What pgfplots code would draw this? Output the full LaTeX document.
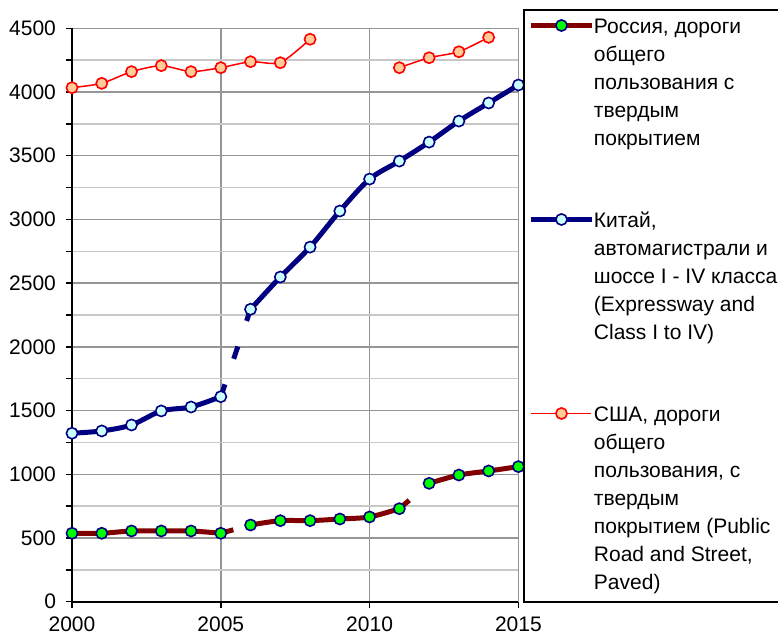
\documentclass[border=0pt]{standalone}
\usepackage{fontspec}
\setmainfont{Liberation Sans}
\usepackage{pgfplots}
\pgfplotsset{compat=1.18}

\definecolor{rusline}{RGB}{128,0,0}
\definecolor{navyblue}{RGB}{0,0,128}
\definecolor{rusfill}{RGB}{0,255,0}
\definecolor{chnfill}{RGB}{204,255,255}
\definecolor{usafill}{RGB}{255,204,153}
\definecolor{majgrid}{RGB}{150,150,150}
\definecolor{mingrid}{RGB}{200,200,200}

\pgfplotsset{
  rus/.style={rusline, line width=2.5pt, smooth, tension=0.5, mark=*, mark size=2.8pt,
    mark options={solid, fill=rusfill, draw=navyblue, line width=0.8pt}},
  chn/.style={navyblue, line width=2.5pt, smooth, tension=0.5, mark=*, mark size=2.8pt,
    mark options={solid, fill=chnfill, draw=navyblue, line width=0.8pt}},
  usa/.style={red, line width=0.75pt, smooth, tension=0.4, mark=*, mark size=2.8pt,
    mark options={solid, fill=usafill, draw=red, line width=0.8pt}},
  gap/.style={line width=2.5pt, dash pattern=on 6.5pt off 13.5pt, no markers, forget plot},
}
% legend text block, baseline on its first line
\newcommand{\lgd}[1]{\begin{tabular}[t]{@{}l@{}}#1\end{tabular}}

\begin{document}
\begin{tikzpicture}
\begin{axis}[
    scale only axis,
    width=223.2pt, height=286.7pt,
    xmin=2000, xmax=2015, ymin=0, ymax=4500,
    clip=false,
    axis lines=left,
    axis line style={-, black, line width=1pt},
    xtick={2000,2005,2010,2015},
    ytick={0,500,...,4500},
    minor y tick num=1,
    tick align=outside,
    major tick length=3pt, minor tick length=3pt,
    tick style={black, line width=0.75pt},
    grid=both,
    major grid style={majgrid, line width=0.75pt},
    minor grid style={mingrid, line width=0.75pt},
    tick label style={font=\fontsize{10.5}{12}\selectfont},
    yticklabel style={xshift=-1.5pt},
    xticklabel style={yshift=-1.2pt},
    /pgf/number format/assume math mode=true,
    /pgf/number format/1000 sep={},
    legend columns=1,
    legend image code/.code={\draw[mark repeat=2, mark phase=2] plot coordinates {(0pt,4pt) (15pt,4pt) (30pt,4pt)};},
    legend style={
      at={(1.0105,1.0337)}, anchor=north west,
      draw=black, line width=0.9pt, fill=white,
      inner xsep=2.5pt, inner ysep=2pt,
      font=\fontsize{10.5}{14}\selectfont,
      row sep=27pt, column sep=0pt,
      cells={anchor=base west},
      nodes={inner sep=0pt, text depth=},
    },
]

% Russia
\addplot[rus] coordinates {(2000,537) (2001,537) (2002,555) (2003,555) (2004,555) (2005,537)};
\addlegendentry{\lgd{Россия, дороги\\общего\\пользования с\\твердым\\покрытием}}
\addplot[rus, forget plot] coordinates {(2006,602) (2007,636) (2008,636) (2009,649) (2010,665) (2011,730)};
\addplot[rus, forget plot] coordinates {(2012,929) (2013,994) (2014,1026) (2015,1060)};
\addplot[rusline, gap] coordinates {(2005,537) (2006,602)};
\addplot[rusline, gap] coordinates {(2011,730) (2012,929)};

% China
\addplot[chn] coordinates {(2000,1322) (2001,1340) (2002,1387) (2003,1497) (2004,1528) (2005,1609)};
\addlegendentry{\lgd{Китай,\\автомагистрали и\\шоссе I - IV класса\\(Expressway and\\Class I to IV)}}
\addplot[chn, forget plot] coordinates {(2006,2295) (2007,2548) (2008,2783) (2009,3066) (2010,3317)
  (2011,3458) (2012,3607) (2013,3772) (2014,3914) (2015,4055)};
\addplot[navyblue, gap] coordinates {(2005,1609) (2006,2295)};

% USA
\addplot[usa] coordinates {(2000,4034) (2001,4068) (2002,4160) (2003,4207) (2004,4160) (2005,4191)
  (2006,4238) (2007,4230) (2008,4414)};
\addlegendentry{\lgd{США, дороги\\общего\\пользования, с\\твердым\\покрытием (Public\\Road and Street,\\Paved)}}
\addplot[usa, forget plot] coordinates {(2011,4191) (2012,4269) (2013,4316) (2014,4429)};

\end{axis}
\pgfresetboundingbox
\useasboundingbox (-36pt,-18.15pt) rectangle (353pt,300.85pt);
\end{tikzpicture}
\end{document}
